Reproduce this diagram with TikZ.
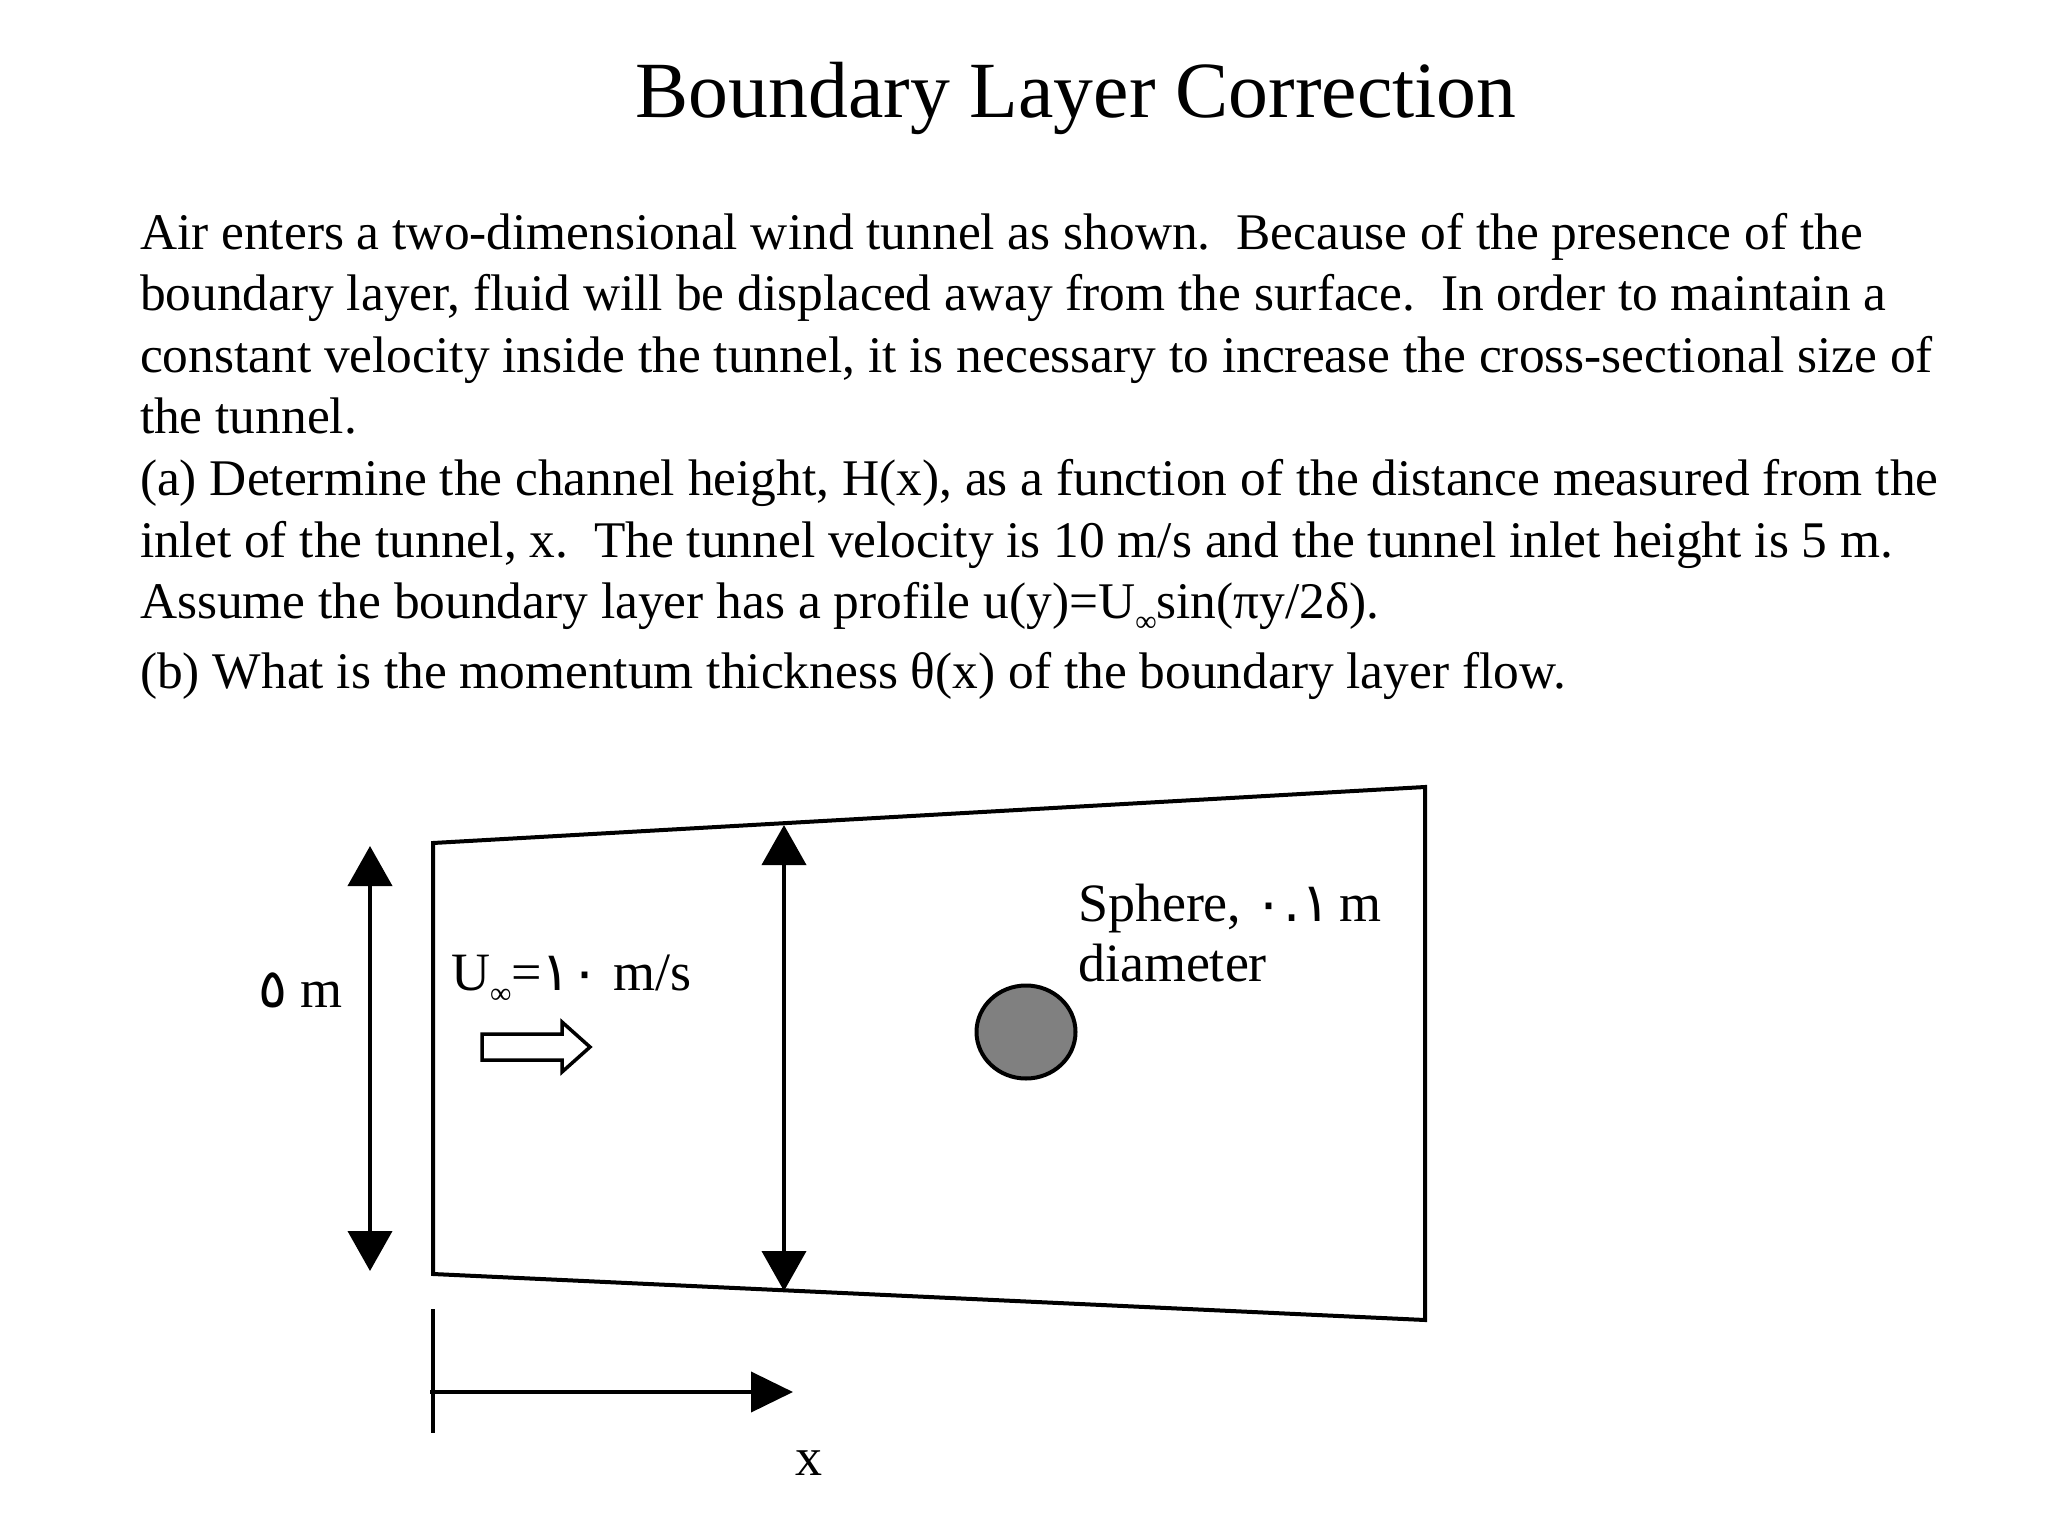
\documentclass[tikz,border=0pt]{standalone}
\usepackage{fontspec}
\setmainfont{Liberation Serif}
\newfontfamily\arabicfont[Script=Arabic]{DejaVu Sans}
\usetikzlibrary{arrows.meta,shapes.geometric}
\tikzset{
	every path/.append style={line width=4pt},
	bodytext/.style={anchor=base west,inner sep=0pt,align=left,font=\fontsize{51.4}{61.6}\selectfont},
	figtext/.style={anchor=base west,inner sep=0pt,align=left,font=\fontsize{54}{60}\selectfont},
	bigarrow/.style={{Triangle[length=40pt,width=44pt]}-{Triangle[length=40pt,width=44pt]}},
	sphere/.style={ellipse,draw,fill=gray,minimum width=99pt,minimum height=93pt,inner sep=0pt},
}
\newcommand{\infsub}{\raisebox{-13pt}{\fontsize{30}{30}\selectfont ∞}}
\begin{document}
\begin{tikzpicture}[x=1pt,y=-1pt]
	\useasboundingbox (0,0) rectangle (2048,1536);
	\node[anchor=base,inner sep=0pt,font=\fontsize{79.7}{80}\selectfont] (title) at (1076,118) {Boundary Layer Correction};
	\node[bodytext] (line1) at (138,249) {Air enters a two-dimensional wind tunnel as shown.\ \ Because of the presence of the};
	\node[bodytext] (line2) at (138,310) {boundary layer, fluid will be displaced away from the surface.\ \ In order to maintain a};
	\node[bodytext] (line3) at (138,372) {constant velocity inside the tunnel, it is necessary to increase the cross-sectional size of};
	\node[bodytext] (line4) at (138,433) {the tunnel.};
	\node[bodytext] (line5) at (138,495) {(a) Determine the channel height, H(x), as a function of the distance measured from the};
	\node[bodytext] (line6) at (138,557) {inlet of the tunnel, x.\ \ The tunnel velocity is 10 m/s and the tunnel inlet height is 5 m.};
	\node[bodytext] (line7) at (138,618) {Assume the boundary layer has a profile u(y)=U\infsub sin(πy/2δ).};
	\node[bodytext] (line8) at (138,688) {(b) What is the momentum thickness θ(x) of the boundary layer flow.};
	% tunnel
	\coordinate (inTop) at (433,843);
	\coordinate (outTop) at (1425,787);
	\coordinate (outBot) at (1425,1320);
	\coordinate (inBot) at (433,1274);
	\draw (inTop) -- (outTop) -- (outBot) -- (inBot) -- cycle;
	% heights
	\coordinate (leftTop) at (370,846);
	\coordinate (leftBot) at (370,1271);
	\coordinate (midTop) at (784,825);
	\coordinate (midBot) at (784,1291);
	\draw[bigarrow] (leftBot) -- (leftTop);
	\draw[bigarrow] (midBot) -- (midTop);
	\node[figtext] (inlet) at (256,1007) {{\arabicfont ٥} m};
	\node[figtext] (velocity) at (449,990) {U\infsub={\arabicfont ١٠} m/s};
	% flow arrow
	\draw[line width=3.5pt] (482,1034) -- (562,1034) -- (562,1022) -- (590,1047) -- (562,1072) -- (562,1060) -- (482,1060) -- cycle;
	% sphere
	\node[sphere] (ball) at (1026,1032) {};
	\node[figtext] (ballnote) at (1076,981) {Sphere, {\arabicfont ٠.١}\kern-4pt{} m\\diameter};
	% x axis
	\coordinate (tickTop) at (433,1309);
	\coordinate (tickBot) at (433,1433);
	\coordinate (axisFrom) at (430,1392);
	\coordinate (axisTo) at (793,1392);
	\draw (tickTop) -- (tickBot);
	\draw[-{Triangle[length=42pt,width=40pt]}] (axisFrom) -- (axisTo);
	\node[anchor=base,inner sep=0pt,font=\fontsize{54}{60}\selectfont] (xlabel) at (809,1475) {x};
\end{tikzpicture}
\end{document}
